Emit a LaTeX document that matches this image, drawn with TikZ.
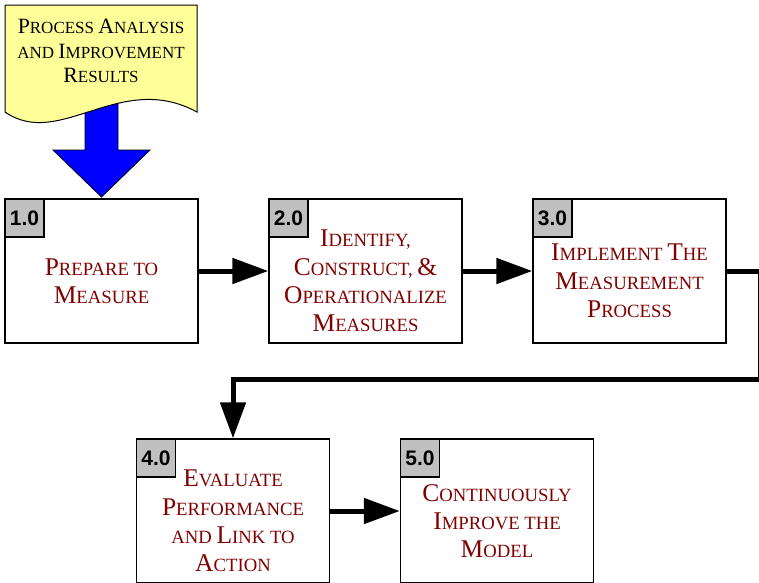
\documentclass[tikz,border=0pt]{standalone}
\usepackage{fontspec}
\setmainfont{Liberation Serif}
\newfontfamily\labelfont{Liberation Sans}
\usetikzlibrary{arrows.meta}
\definecolor{txtred}{RGB}{128,0,0}
\definecolor{docyellow}{RGB}{255,255,153}
\definecolor{taggrey}{RGB}{192,192,192}
\newcommand\BigC[1]{{\fontsize{25.5}{28.3}\selectfont #1}}
\newcommand\DocC[1]{{\fontsize{21.8}{24.5}\selectfont #1}}
\begin{document}
\begin{tikzpicture}[x=1pt,y=-1pt,
  box/.style={draw=black, line width=1.4pt, fill=white, minimum width=193pt, minimum height=144pt, inner sep=0pt},
  tagbox/.style={draw=black, line width=1.4pt, fill=taggrey, minimum width=39pt, minimum height=38pt, inner sep=0pt, anchor=north west, font=\labelfont\bfseries\fontsize{21}{21}\selectfont},
  boxtext/.style={text=txtred, align=center, inner sep=0pt, font=\fontsize{18.7}{28.3}\selectfont},
  doctext/.style={text=black, align=center, inner sep=0pt, font=\fontsize{17}{24.5}\selectfont},
  conn/.style={line width=5pt, -{Triangle[length=36pt,width=25pt]}}
]
\useasboundingbox (0,0) rectangle (759,582);

% input document with blue arrow
\draw[line width=0.8pt, fill=blue] (85,100) -- (85,150) -- (53,150) -- (101.5,197) -- (150,150) -- (118,150) -- (118,100) -- cycle;
\draw[line width=1pt, fill=docyellow] (5,5) -- (197,5) -- (197,112) .. controls (120,70) and (60,150) .. (5,112) -- cycle;
\node[doctext] (dt) at (101,51) {\DocC{P}ROCESS \DocC{A}NALYSIS\\AND \DocC{I}MPROVEMENT\\\DocC{R}ESULTS};

% boxes
\node[box] (b1) at (101.5,271) {};
\node[box] (b2) at (365.5,271) {};
\node[box] (b3) at (629.5,271) {};
\node[box] (b4) at (233,511) {};
\node[box] (b5) at (497,511) {};

\node[tagbox] (g1) at (b1.north west) {1.0};
\node[tagbox] (g2) at (b2.north west) {2.0};
\node[tagbox] (g3) at (b3.north west) {3.0};
\node[tagbox] (g4) at (b4.north west) {4.0};
\node[tagbox] (g5) at (b5.north west) {5.0};

\node[boxtext] (t1) at (101.5,281) {\BigC{P}REPARE TO\\\BigC{M}EASURE};
\node[boxtext] (t2) at (365.5,281) {\BigC{I}DENTIFY,\\\BigC{C}ONSTRUCT, \BigC{\&}\\\BigC{O}PERATIONALIZE\\\BigC{M}EASURES};
\node[boxtext] (t3) at (629.5,281) {\BigC{I}MPLEMENT \BigC{T}HE\\\BigC{M}EASUREMENT\\\BigC{P}ROCESS};
\node[boxtext] (t4) at (233,521) {\BigC{E}VALUATE\\\BigC{P}ERFORMANCE\\AND \BigC{L}INK TO\\\BigC{A}CTION};
\node[boxtext] (t5) at (497,521) {\BigC{C}ONTINUOUSLY\\\BigC{I}MPROVE THE\\\BigC{M}ODEL};

% connectors
\coordinate (c1) at (760.5,271);
\coordinate (c2) at (760.5,379.5);
\coordinate (c3) at (233,379.5);
\draw[conn] (b1.east) -- (b2.west);
\draw[conn] (b2.east) -- (b3.west);
\draw[conn] (b3.east) -- (c1) -- (c2) -- (c3) -- (b4.north);
\draw[conn] (b4.east) -- (b5.west);
\end{tikzpicture}
\end{document}
